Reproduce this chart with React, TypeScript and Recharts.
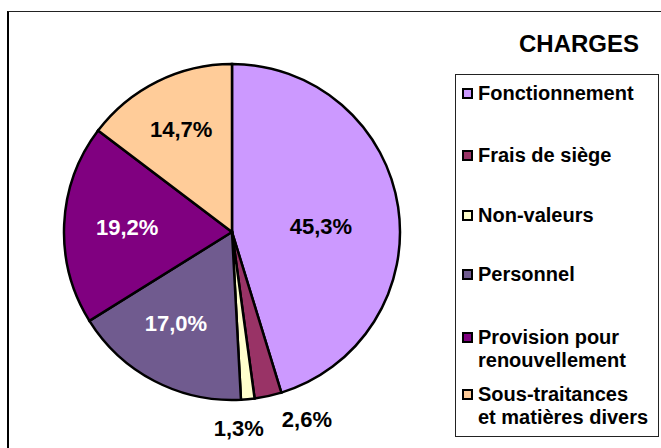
import React from 'react';
import { PieChart, Pie, Cell, Legend } from 'recharts';

const categories = [
  'Fonctionnement',
  'Frais de siège',
  'Non-valeurs',
  'Personnel',
  'Provision pour renouvellement',
  'Sous-traitances et matières divers',
];
const legendLines = [
  ['Fonctionnement'],
  ['Frais de siège'],
  ['Non-valeurs'],
  ['Personnel'],
  ['Provision pour', 'renouvellement'],
  ['Sous-traitances', 'et matières divers'],
];
const values = [45.3, 2.6, 1.3, 17.0, 19.2, 14.7];
const colors = ['#CC99FF', '#993366', '#FFFFCC', '#705B8F', '#800080', '#FFCC99'];
const labelColors = ['#000', '#000', '#000', '#fff', '#fff', '#000'];
const labelRadius = [0.53, 1.2, 1.17, 0.64, 0.625, 0.68];
const labelAngleShift = [-5, 9.4, -3.4, -3.9, 0, 0];
const legendItemCenters = [19, 81, 141, 200, 263, 320];

const data = categories.map((name, i) => ({ name, value: values[i] }));

const RAD = Math.PI / 180;
const fmt = (v: number) => v.toFixed(1).replace('.', ',') + '%';

const renderLabel = (props: any) => {
  const { cx, cy, midAngle, outerRadius, index } = props;
  const r = outerRadius * labelRadius[index];
  const a = (midAngle + labelAngleShift[index]) * RAD;
  const x = cx + r * Math.cos(a);
  const y = cy - r * Math.sin(a);
  return (
    <text
      x={x}
      y={y}
      textAnchor="middle"
      dominantBaseline="central"
      fill={labelColors[index]}
      fontFamily="'Liberation Sans', Arial, sans-serif"
      fontWeight="bold"
      fontSize={22}
    >
      {fmt(values[index])}
    </text>
  );
};

const renderLegend = () => (
  <div
    style={{
      position: 'relative',
      width: 204,
      height: 363,
      border: '1px solid #222',
      boxSizing: 'border-box',
      background: '#fff',
      fontFamily: "'Liberation Sans', Arial, sans-serif",
      fontWeight: 'bold',
      fontSize: 20,
      color: '#000',
    }}
  >
    {categories.map((c, i) => (
      <div key={c}>
        <div
          style={{
            position: 'absolute',
            left: 6,
            top: legendItemCenters[i] - 6.5,
            width: 11,
            height: 11,
            background: colors[i],
            border: '2px solid #000',
            boxSizing: 'border-box',
          }}
        />
        <div
          style={{
            position: 'absolute',
            left: 22,
            top: legendItemCenters[i] - 12,
            lineHeight: '23px',
            whiteSpace: 'nowrap',
          }}
        >
          {legendLines[i].map((l) => (
            <div key={l}>{l}</div>
          ))}
        </div>
      </div>
    ))}
  </div>
);

export default function App() {
  return (
    <div style={{ position: 'absolute', left: 0, top: 0, width: 661, height: 448, background: '#fff' }}>
      <div
        style={{
          position: 'absolute',
          left: 7,
          top: 11,
          width: 661 - 7,
          height: 448 - 11,
          borderLeft: '2px solid #000',
          borderTop: '1px solid #222',
          boxSizing: 'border-box',
        }}
      />
      <div
        style={{
          position: 'absolute',
          left: 479,
          top: 32,
          width: 200,
          textAlign: 'center',
          fontFamily: "'Liberation Sans', Arial, sans-serif",
          fontWeight: 'bold',
          fontSize: 24,
          lineHeight: 1,
        }}
      >
        CHARGES
      </div>
      <div style={{ position: 'absolute', left: 0, top: 0 }}>
        <PieChart width={661} height={448} margin={{ top: 0, right: 0, bottom: 0, left: 0 }}>
          <Pie
            data={data}
            dataKey="value"
            nameKey="name"
            cx={232}
            cy={232}
            outerRadius={168}
            startAngle={90}
            endAngle={-270}
            stroke="#000"
            strokeWidth={2.5}
            label={renderLabel}
            labelLine={false}
            isAnimationActive={false}
          >
            {data.map((d, i) => (
              <Cell key={d.name} fill={colors[i]} />
            ))}
          </Pie>
          <Legend
            layout="vertical"
            align="right"
            verticalAlign="top"
            content={renderLegend}
            wrapperStyle={{ position: 'absolute', left: 455, top: 74, width: 204, height: 363 }}
          />
        </PieChart>
      </div>
    </div>
  );
}
